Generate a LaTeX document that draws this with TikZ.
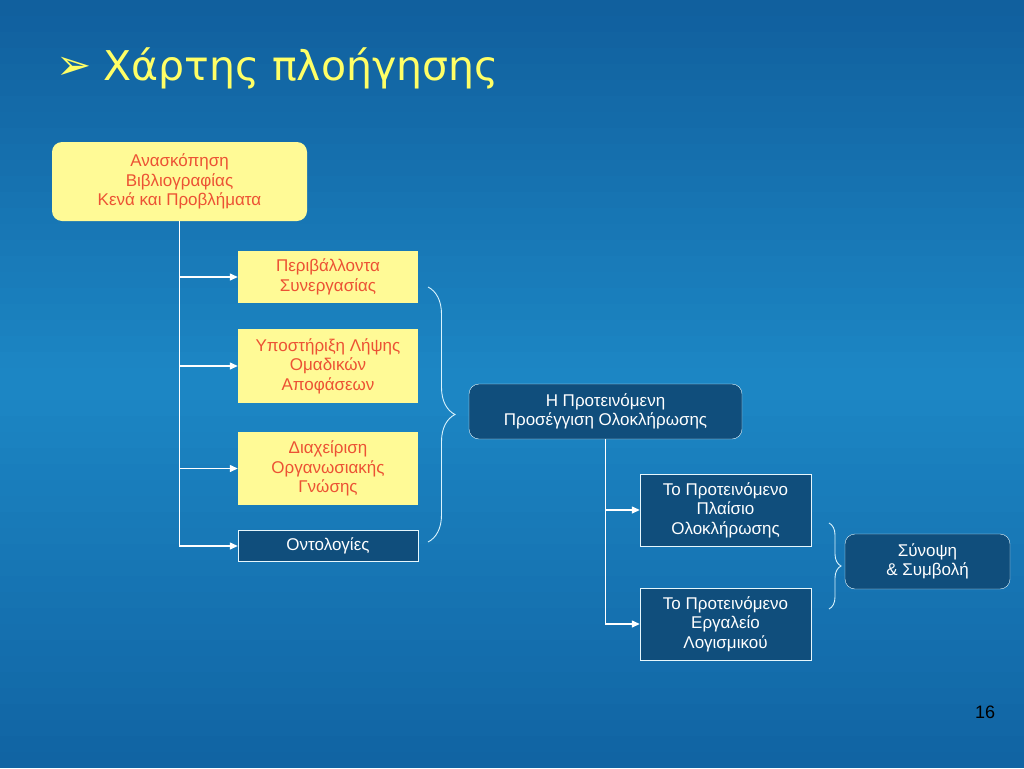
\documentclass[tikz,border=0pt]{standalone}
\usepackage{fontspec}
\setmainfont{Liberation Sans}
\newfontfamily\titlefont{DejaVu Sans}
\usepackage{tikz}
\usepackage{xcolor}
\usetikzlibrary{arrows.meta,decorations.pathreplacing}
\definecolor{bg-top}{RGB}{17,96,158}
\definecolor{bg-mid}{RGB}{28,134,196}
\definecolor{bg-bottom}{RGB}{17,100,163}
\definecolor{box-yellow}{RGB}{255,250,150}
\definecolor{box-red}{RGB}{236,82,52}
\definecolor{box-dark}{RGB}{16,78,124}
\definecolor{title-yellow}{RGB}{255,255,102}
\newcommand{\boxfont}{\fontsize{17}{19.5}\selectfont}
\tikzset{
    yellow-box/.style = {fill=box-yellow, text=box-red, rectangle, align=center, font=\boxfont, inner sep=0pt},
    dark-box/.style = {draw=white!90!cyan, fill=box-dark, text=white, thin, rectangle, align=center, font=\boxfont, inner sep=0pt},
    branch-arrow/.style = {draw=white, line width=1.3pt, -{Triangle[length=8pt,width=7pt]}},
    white-brace/.style = {draw=white!85!cyan, line width=0.9pt, decorate, decoration={brace, amplitude=#1}},
}

\begin{document}
\begin{tikzpicture}[x=1pt, y=-1pt]
\foreach \i in {0,...,23} {
    \pgfmathtruncatemacro{\p}{round(100*\i/23)}
    \fill[bg-mid!\p!bg-top] (0,{16*\i}) rectangle (1024,{16*\i+16.5});
    \fill[bg-mid!\p!bg-bottom] (0,{768-16*\i}) rectangle (1024,{752-16*\i-0.5});
}
\useasboundingbox (0,0) rectangle (1024,768);

\node[text=title-yellow, font=\titlefont\fontsize{42}{46}\selectfont, anchor=base west, inner sep=0pt] (bullet) at (56,79) {➢};
\node[text=title-yellow, font=\titlefont\fontsize{41}{46}\selectfont, anchor=base west, inner sep=0pt] (title) at (103,80) {Χάρτης πλοήγησης};

\node[yellow-box, rounded corners=10pt, minimum width=255pt, minimum height=79pt] (review) at (179.5,181.5) {Ανασκόπηση\\Βιβλιογραφίας\\Κενά και Προβλήματα};
\node[yellow-box, minimum width=180pt, minimum height=52pt] (collab) at (328,277) {Περιβάλλοντα\\Συνεργασίας};
\node[yellow-box, minimum width=180pt, minimum height=74pt] (decision) at (328,366) {Υποστήριξη Λήψης\\Ομαδικών\\Αποφάσεων};
\node[yellow-box, minimum width=180pt, minimum height=73pt] (knowledge) at (328,468.5) {Διαχείριση\\Οργανωσιακής\\Γνώσης};
\node[dark-box, minimum width=180pt, minimum height=31pt] (ontology) at (328,546) {Οντολογίες};

\node[dark-box, rounded corners=10pt, minimum width=273pt, minimum height=55pt] (approach) at (605.5,411.5) {Η Προτεινόμενη\\Προσέγγιση Ολοκλήρωσης};
\node[dark-box, minimum width=171pt, minimum height=72pt] (framework) at (725.5,510) {Το Προτεινόμενο\\Πλαίσιο\\Ολοκλήρωσης};
\node[dark-box, minimum width=171pt, minimum height=72pt] (tool) at (725.5,624) {Το Προτεινόμενο\\Εργαλείο\\Λογισμικού};
\node[dark-box, rounded corners=10pt, minimum width=165pt, minimum height=55pt] (summary) at (927.5,561.5) {Σύνοψη\\\& Συμβολή};

\node[font=\fontsize{18}{20}\selectfont, text=black] (page) at (985,712) {16};

\draw[branch-arrow] (review.south) |- (collab.west);
\draw[branch-arrow] (review.south) |- (decision.west);
\draw[branch-arrow] (review.south) |- (knowledge.west);
\draw[branch-arrow] (review.south) |- (ontology.west);

\draw[branch-arrow] (approach.south) |- (framework.west);
\draw[branch-arrow] (approach.south) |- (tool.west);

\coordinate (brace-a-top) at (428,287);
\coordinate (brace-a-bottom) at (428,542);
\draw[white-brace=27pt] (brace-a-top) -- (brace-a-bottom);
\coordinate (brace-b-top) at (829,523);
\coordinate (brace-b-bottom) at (829,609);
\draw[white-brace=12pt] (brace-b-top) -- (brace-b-bottom);
\end{tikzpicture}
\end{document}
